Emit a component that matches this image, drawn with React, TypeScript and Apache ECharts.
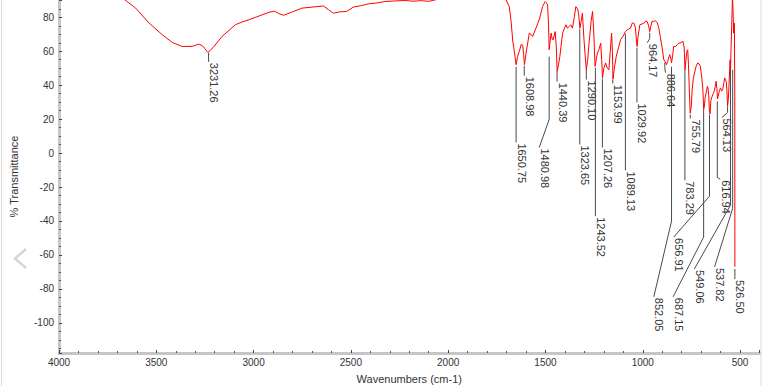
import React, { useEffect, useRef } from "react";
import * as echarts from "echarts";

// Spectrum: wavenumber (cm-1) and % transmittance
const wavenumbers = [
  4000, 3900, 3800, 3720, 3660, 3606, 3537, 3469, 3418, 3367, 3316, 3281, 3262, 3250, 3235, 3222, 3204, 3162, 3094, 3060,
  3025, 2957, 2920, 2892, 2870, 2846, 2800, 2752, 2700, 2641, 2615, 2590, 2560, 2522, 2488, 2450, 2411, 2370, 2326, 2280,
  2223, 2180, 2138, 2100, 2070, 2030, 1984, 1900, 1800, 1740, 1702, 1686, 1677, 1668, 1660, 1651, 1643, 1634, 1625, 1617,
  1612, 1608, 1603, 1597, 1583, 1575, 1566, 1549, 1532, 1515, 1501, 1495, 1489, 1484, 1481, 1476, 1471, 1465, 1460, 1450,
  1444, 1440, 1433, 1426, 1412, 1395, 1387, 1378, 1370, 1361, 1352, 1344, 1335, 1330, 1323, 1316, 1310, 1302, 1295, 1290,
  1283, 1276, 1265, 1258, 1252, 1245, 1238, 1233, 1225, 1216, 1211, 1207, 1200, 1191, 1182, 1174, 1167, 1160, 1156, 1153,
  1146, 1136, 1125, 1114, 1100, 1089, 1075, 1063, 1054, 1046, 1038, 1032, 1029, 1025, 1015, 1005, 994, 985, 977, 970,
  964, 958, 952, 946, 936, 926, 918, 909, 900, 892, 886, 878, 872, 867, 861, 856, 852, 846, 841, 832,
  823, 815, 805, 793, 787, 783, 778, 773, 769, 765, 760, 756, 750, 746, 740, 734, 726, 718, 711, 704,
  697, 691, 687, 684, 679, 674, 668, 665, 661, 657, 654, 650, 643, 638, 633, 628, 623, 619, 616, 612,
  606, 600, 595, 589, 584, 579, 575, 571, 567, 564, 560, 557, 553, 551, 549, 546, 542, 539, 536, 533,
  531, 529, 527, 526.5,
];
const transmittance = [
  97.5, 96.8, 95.5, 93, 90.2, 85.4, 76.6, 69.7, 65.2, 62.8, 62.9, 64.2, 63.2, 61.5, 59.3, 60.5, 62.8, 68.7, 75.6, 77.2,
  78.5, 81.4, 83, 83.6, 82.2, 81.2, 83.2, 85.4, 86, 86.7, 84.5, 82.4, 83.2, 83.4, 86, 86.8, 87.9, 88.4, 89.3, 89.6,
  89.9, 89.5, 89.8, 89.4, 90.2, 91, 92, 93, 93.5, 92.5, 90.2, 86.3, 78, 66, 60, 52.1, 57, 60, 64, 63.5,
  58, 52.1, 56, 60.9, 70.7, 70, 68.7, 73.6, 78.5, 86.3, 89.3, 88.6, 87.3, 75, 60.9, 66, 70.7, 67, 66.8, 71.6,
  62, 48.1, 52, 57, 70.7, 75.6, 73.6, 74.6, 75.6, 73.6, 80, 86.3, 85, 82.4, 73.6, 78, 82.4, 66.8, 56, 49.1,
  55, 64.8, 78, 83.4, 72, 51.1, 56, 59, 61, 64.8, 55, 44.3, 50, 53.1, 50, 49.1, 60, 70.7, 60, 43.5,
  50, 57, 62, 66.8, 69, 71.6, 73, 73.6, 76.6, 76.6, 74, 66, 62.8, 68, 75.6, 76, 76.6, 77.8, 77.5, 75,
  71.6, 75, 77.8, 77.5, 78, 76.9, 74, 68, 62, 55, 54, 52.1, 54, 56, 58, 56, 53.1, 58, 62.8, 62.8,
  63.8, 64.8, 65, 65.8, 62, 49, 55, 60, 60.9, 52, 35, 23.5, 28, 37.4, 44, 47.2, 51, 53.1, 52.6, 51.1,
  45, 37.4, 25.8, 27, 33, 35.5, 39.3, 38.5, 34, 24, 23, 31, 33.5, 35, 36.4, 39, 42.3, 38, 32, 33.5,
  37, 38.4, 36.5, 37.4, 41, 44.3, 43, 42.3, 36, 27.6, 32, 39.3, 50, 55, 49.1, 62, 78.5, 92, 84.4, 70.7,
  72, 76.6, 33.5, -67,
];

// Peak annotations (all in data units: wavenumber, % transmittance)
const peakLabels = [
  "3231.26", "1650.75", "1608.98", "1480.98", "1440.39", "1323.65", "1290.10", "1243.52", "1207.26", "1153.99",
  "1089.13", "1029.92", "964.17", "886.64", "852.05", "783.29", "755.79", "687.15", "656.91", "616.94",
  "564.13", "549.06", "537.82", "526.50",
];
const peakWn = [3231.26, 1650.75, 1608.98, 1480.98, 1440.39, 1323.65, 1290.1, 1243.52, 1207.26, 1153.99,
  1089.13, 1029.92, 964.17, 886.64, 852.05, 783.29, 755.79, 687.15, 656.91, 616.94, 564.13, 549.06, 537.82, 526.5];
const leaderTop = [59.1, 50.9, 51.5, 56.8, 48, 73.2, 49.1, 50.3, 43.9, 43.3,
  70.3, 62.1, 70.9, 53.3, 50.9, 49.1, 22.7, 25.7, 22.7, 30.4, 27.4, 49.1, 49.1, -68.3];
const leaderBend = [53.8, 6.3, 45.6, 19.8, 42.1, 5.1, 43.3, -37.2, 3.3, 40.9,
  -10.2, 29.8, 67.4, 50.3, -40.1, -16, 20.4, -49.5, -25.4, -14.3, 23.9, -30.7, -32.5, -74.2];
const labelWn = [3231.26, 1650.75, 1608.98, 1532, 1440.39, 1323.65, 1290.1, 1243.52, 1207.26, 1153.99,
  1089.13, 1029.92, 977, 883.3, 943.2, 783.29, 755.79, 844, 841, 602, 593, 735, 631, 526.5];
const labelTop = [53.8, 6.3, 45.6, 3.3, 42.1, 5.1, 43.3, -37.2, 3.3, 40.9,
  -10.2, 29.8, 65, 47.4, -84.7, -16, 20.4, -84.7, -49.5, -15.4, 21, -68.3, -67.1, -74.2];

const FONT = "'Liberation Sans', Arial, Helvetica, sans-serif";

export default function App() {
  const ref = useRef<HTMLDivElement>(null);

  useEffect(() => {
    if (!ref.current) return;
    const chart = echarts.init(ref.current, undefined, { renderer: "svg" });

    const spectrum = wavenumbers.map((w, i) => [w, transmittance[i]]);
    const annotations = peakLabels.map((name, i) => ({
      name,
      value: [peakWn[i], leaderTop[i], leaderBend[i], labelWn[i], labelTop[i]],
    }));

    const axisLine = { show: true, onZero: false, lineStyle: { color: "#c6c6c6", width: 3 } };
    const plain = (v: number) => String(v);

    chart.setOption({
      animation: false,
      backgroundColor: "#ffffff",
      textStyle: { fontFamily: FONT },
      grid: { left: 56.3, right: 2.5, top: 0, bottom: 34.7, containLabel: false },
      xAxis: {
        type: "value",
        min: 400,
        max: 4000,
        inverse: true,
        splitNumber: 7,
        minInterval: 500,
        maxInterval: 500,
        axisLine,
        axisTick: { show: true, inside: true, length: 3, lineStyle: { color: "#444", width: 1 } },
        minorTick: { show: true, splitNumber: 5, length: 2, lineStyle: { color: "#555", width: 1 } },
        splitLine: { show: false },
        minorSplitLine: { show: false },
        axisLabel: { color: "#333", fontSize: 10, margin: 4, showMinLabel: false, fontFamily: FONT, formatter: plain },
        name: "Wavenumbers (cm-1)",
        nameLocation: "middle",
        nameGap: 20,
        nameTextStyle: { color: "#333", fontSize: 11, fontFamily: FONT },
      },
      yAxis: {
        type: "value",
        min: -117.8,
        max: 90.2,
        splitNumber: 10,
        minInterval: 20,
        maxInterval: 20,
        axisLine,
        axisTick: { show: true, inside: true, length: 3, lineStyle: { color: "#444", width: 1 } },
        minorTick: { show: true, splitNumber: 4, length: 2, lineStyle: { color: "#555", width: 1 } },
        splitLine: { show: false },
        minorSplitLine: { show: false },
        axisLabel: {
          color: "#333",
          fontSize: 10,
          margin: 5,
          showMinLabel: false,
          showMaxLabel: false,
          fontFamily: FONT,
          formatter: plain,
        },
        name: "% Transmittance",
        nameLocation: "middle",
        nameGap: 40,
        nameTextStyle: { color: "#333", fontSize: 11, fontFamily: FONT },
      },
      graphic: [
        { type: "line", shape: { x1: 1.5, y1: 0, x2: 1.5, y2: 386 }, style: { stroke: "#dcdcdc", lineWidth: 1 } },
        { type: "line", shape: { x1: 761, y1: 0, x2: 761, y2: 386 }, style: { stroke: "#dcdcdc", lineWidth: 1 } },
        {
          type: "polyline",
          shape: { points: [[26, 249], [15, 258.5], [26, 268]] },
          style: { stroke: "#d6d6d6", lineWidth: 2.5, fill: null },
        },
      ],
      series: [
        {
          type: "line",
          data: spectrum,
          symbol: "none",
          clip: true,
          lineStyle: { color: "#ff0000", width: 1 },
          z: 3,
        },
        {
          type: "custom",
          coordinateSystem: "cartesian2d",
          data: annotations,
          z: 2,
          renderItem: (params: any, api: any) => {
            const p0 = api.coord([api.value(0), api.value(1)]);
            const p1 = api.coord([api.value(0), api.value(2)]);
            const p2 = api.coord([api.value(3), api.value(4)]);
            const name = peakLabels[params.dataIndex];
            return {
              type: "group",
              children: [
                {
                  type: "polyline",
                  shape: { points: [p0, p1, p2] },
                  style: { stroke: "#4a4a4a", lineWidth: 1, fill: null },
                },
                {
                  type: "text",
                  x: p2[0],
                  y: p2[1] + 1,
                  rotation: -Math.PI / 2,
                  style: {
                    text: name,
                    fontSize: 11,
                    fontFamily: FONT,
                    fill: "#333",
                    align: "left",
                    verticalAlign: "bottom",
                  },
                },
              ],
            };
          },
        },
      ],
    });

    return () => chart.dispose();
  }, []);

  return (
    <div
      ref={ref}
      style={{ position: "absolute", left: 0, top: 0, width: 762, height: 389, background: "#fff" }}
    />
  );
}
